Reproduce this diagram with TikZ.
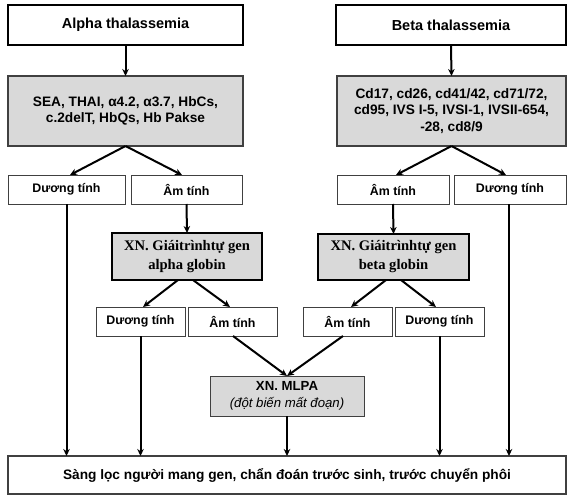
\documentclass[tikz,border=0pt]{standalone}
\usepackage{fontspec}
\setmainfont{Liberation Sans}
\newfontfamily\serifb{Liberation Serif}
\usetikzlibrary{arrows.meta,calc}
\definecolor{boxgray}{HTML}{D9D9D9}
\definecolor{edgegray}{HTML}{404040}
\begin{document}
\begin{tikzpicture}[x=1pt,y=-1pt,
  every node/.style={inner sep=0pt,outer sep=0pt,align=center},
  titlebox/.style={draw=black,line width=2pt,fill=white,font=\fontsize{14.5}{17}\selectfont\bfseries},
  graybox/.style={draw=edgegray,line width=1.1pt,fill=boxgray,font=\fontsize{13.7}{16.5}\selectfont\bfseries},
  resbox/.style={draw=edgegray,line width=1pt,fill=white,minimum height=29pt,font=\fontsize{12.4}{14}\selectfont\bfseries},
  xnbox/.style={draw=black,line width=2pt,fill=boxgray,font=\fontsize{14.6}{19}\selectfont\serifb\bfseries},
  arr/.style={line width=2pt,-{Stealth[length=7pt,width=6.5pt]}}
]
\useasboundingbox (0,0) rectangle (576,498);
\node[titlebox,minimum width=235pt,minimum height=40pt] (alpha) at (125.5,25) {Alpha thalassemia};
\node[titlebox,minimum width=230pt,minimum height=40pt] (beta) at (451,25) {Beta thalassemia};
\node[graybox,minimum width=235pt,minimum height=70pt] (galpha) at (125.5,111) {SEA, THAI, α4.2, α3.7, HbCs,\\c.2delT, HbQs, Hb Pakse};
\node[graybox,minimum width=229pt,minimum height=70pt] (gbeta) at (451.5,111) {Cd17, cd26, cd41/42, cd71/72,\\cd95, IVS I-5, IVSI-1, IVSII-654,\\-28, cd8/9};
\node[resbox,minimum width=117pt] (d1) at (66.5,189.5) {Dương tính};
\node[resbox,minimum width=111pt] (a1) at (186.5,189.5) {Âm tính};
\node[resbox,minimum width=112pt] (a2) at (393,189.5) {Âm tính};
\node[resbox,minimum width=112pt] (d2) at (510,189.5) {Dương tính};
\node[xnbox,minimum width=150pt,minimum height=47pt] (xa) at (187,256.5) {XN. Giáitrìnhtự gen\\alpha globin};
\node[xnbox,minimum width=151pt,minimum height=46pt] (xb) at (393.5,257) {XN. Giáitrìnhtự gen\\beta globin};
\node[resbox,minimum width=89pt] (d3) at (140.5,321.5) {Dương tính};
\node[resbox,minimum width=89pt] (a3) at (232.5,321.5) {Âm tính};
\node[resbox,minimum width=89pt] (a4) at (347.5,321.5) {Âm tính};
\node[resbox,minimum width=89pt] (d4) at (439.5,321.5) {Dương tính};
\node[draw=edgegray,line width=1pt,fill=boxgray,minimum width=154pt,minimum height=40pt,font=\fontsize{13.2}{17}\selectfont] (mlpa) at (287,396) {\textbf{XN. MLPA}\\\textit{(đột biến mất đoạn)}};
\node[draw=edgegray,line width=1.2pt,fill=white,minimum width=558pt,minimum height=38pt,font=\fontsize{13.7}{16}\selectfont\bfseries] (final) at (287,475) {Sàng lọc người mang gen, chẩn đoán trước sinh, trước chuyển phôi};
% connectors
\draw[arr] (alpha.south) -- (galpha.north);
\draw[arr] (beta.south) -- (gbeta.north);
\draw[arr] (galpha.south) -- ($(d1.north)+(3.5,0)$);
\draw[arr] (galpha.south) -- ($(a1.north)+(-4.5,0)$);
\draw[arr] (gbeta.south) -- ($(a2.north)+(3,0)$);
\draw[arr] (gbeta.south) -- ($(d2.north)+(-4,0)$);
\draw[arr] (a1.south) -- (xa.north);
\draw[arr] (a2.south) -- (xb.north);
\draw[arr] ($(xa.south)+(-9,0)$) -- ($(d3.north)+(2.5,0)$);
\draw[arr] ($(xa.south)+(6,0)$) -- ($(a3.north)+(-2.5,0)$);
\draw[arr] ($(xb.south)+(-7.5,0)$) -- ($(a4.north)+(3.5,0)$);
\draw[arr] ($(xb.south)+(7.5,0)$) -- ($(d4.north)+(-3.5,0)$);
\draw[arr] ($(a3.south)+(0.5,0)$) -- (mlpa.north);
\draw[arr] ($(a4.south)+(-4.5,0)$) -- (mlpa.north);
\draw[arr] (mlpa.south) -- (mlpa.south |- final.north);
\draw[arr] (d1.south) -- (d1.south |- final.north);
\draw[arr] (d3.south) -- (d3.south |- final.north);
\draw[arr] (d4.south) -- (d4.south |- final.north);
\draw[arr] ($(d2.south)+(-1,0)$) -- ($(d2.south |- final.north)+(-1,0)$);
\end{tikzpicture}
\end{document}
